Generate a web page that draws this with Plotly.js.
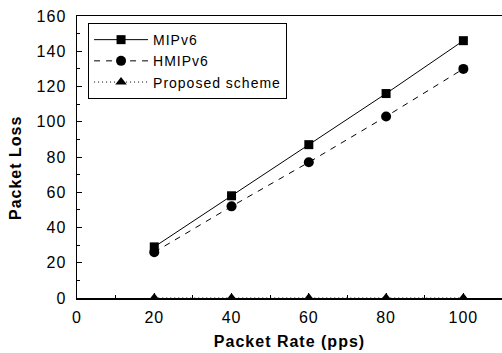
<!DOCTYPE html>
<html>
<head>
<meta charset="utf-8">
<script src="https://cdn.plot.ly/plotly-3.0.1.min.js"></script>
<style>
html,body{margin:0;padding:0;background:#fff;}
#chart{width:502px;height:353px;}
svg text{letter-spacing:1px;}
</style>
</head>
<body>
<div id="chart"></div>
<script>
const packetRate = [20, 40, 60, 80, 100];
const mipv6 = [29, 58, 87, 116, 146];
const hmipv6 = [26, 52, 77, 103, 130];
const proposed = [0, 0, 0, 0, 0];
const seriesNames = ["MIPv6", "HMIPv6", "Proposed scheme"];
const xTitle = "Packet Rate (pps)";
const yTitle = "Packet Loss";

const FONT = "Liberation Sans, Arial, sans-serif";

const traces = [
  {x: packetRate, y: mipv6, name: seriesNames[0], mode: "lines+markers",
   line: {color: "#000", width: 1, dash: "solid"},
   marker: {symbol: "square", size: 9, color: "#000"}},
  {x: packetRate, y: hmipv6, name: seriesNames[1], mode: "lines+markers",
   line: {color: "#000", width: 1, dash: "6px,6px"},
   marker: {symbol: "circle", size: 10, color: "#000"}},
  {x: packetRate, y: proposed, name: seriesNames[2], mode: "lines+markers",
   line: {color: "#000", width: 1, dash: "1px,3px"},
   marker: {symbol: "triangle-up", size: 10, color: "#000"}}
];

const layout = {
  width: 502, height: 353,
  margin: {l: 77, r: 0, t: 16, b: 55},
  paper_bgcolor: "#fff", plot_bgcolor: "#fff",
  font: {family: FONT, color: "#000", size: 15},
  showlegend: true,
  legend: {
    x: 0.026, y: 0.975, xanchor: "left", yanchor: "top",
    bgcolor: "#fff", bordercolor: "#000", borderwidth: 1,
    font: {family: FONT, size: 14, color: "#000"},
    itemwidth: 54, tracegroupgap: 0
  },
  xaxis: {
    range: [0, 110], tickvals: [0, 20, 40, 60, 80, 100],
    ticks: "inside", ticklen: 5, tickwidth: 1, tickcolor: "#000",
    minor: {ticks: "inside", ticklen: 3, dtick: 10, tick0: 0, tickcolor: "#000"},
    showline: true, linecolor: "#000", linewidth: 1.5, mirror: true,
    showgrid: false, zeroline: false,
    tickfont: {family: FONT, size: 16},
    ticklabelstandoff: 4,
    title: {text: xTitle, font: {family: FONT, size: 16, weight: "bold"}, standoff: 11}
  },
  yaxis: {
    range: [0, 160], tickvals: [0, 20, 40, 60, 80, 100, 120, 140, 160],
    ticks: "inside", ticklen: 5, tickwidth: 1, tickcolor: "#000",
    minor: {ticks: "inside", ticklen: 3, dtick: 10, tick0: 0, tickcolor: "#000"},
    showline: true, linecolor: "#000", linewidth: 1.5, mirror: false,
    showgrid: false, zeroline: false,
    tickfont: {family: FONT, size: 16},
    ticklabelstandoff: 6
  },
  annotations: [{
    text: yTitle, textangle: -90, showarrow: false,
    xref: "paper", yref: "paper", x: -0.1435, y: 0.461,
    xanchor: "center", yanchor: "middle",
    font: {family: FONT, size: 16, weight: "bold", color: "#000"}
  }]
};

Plotly.newPlot("chart", traces, layout, {displayModeBar: false, staticPlot: true});
</script>
</body>
</html>
